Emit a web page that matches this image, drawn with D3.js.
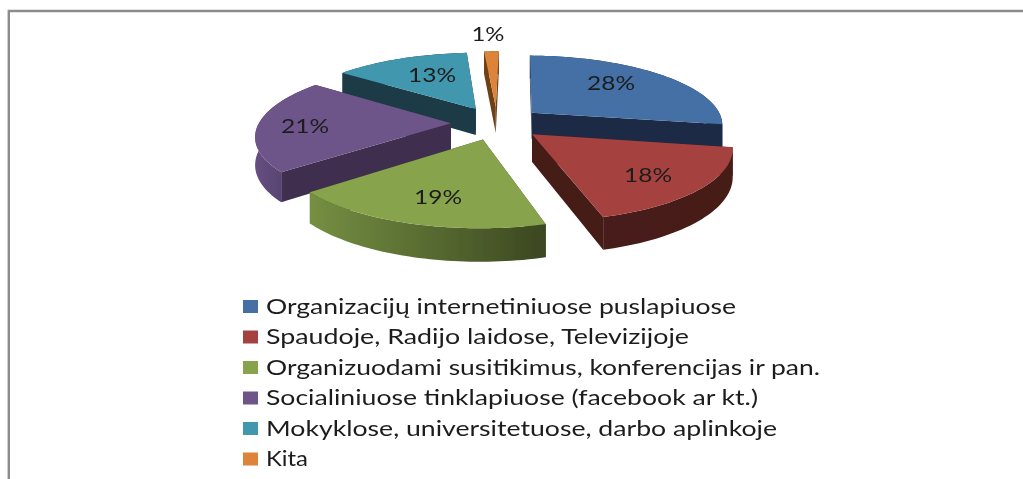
<!DOCTYPE html>
<html><head><meta charset="utf-8">
<script src="https://cdn.jsdelivr.net/npm/d3@7"></script>
<style>html,body{margin:0;padding:0;background:#fff}svg{display:block}text{font-family:Lato,"Open Sans",sans-serif;fill:#1c1c1c}</style>
</head><body><svg id="c" width="1023" height="479"></svg>
<script>
const categories=["Organizacijų internetiniuose puslapiuose","Spaudoje, Radijo laidose, Televizijoje","Organizuodami susitikimus, konferencijas ir pan.","Socialiniuose tinklapiuose (facebook ar kt.)","Mokyklose, universitetuose, darbo aplinkoje","Kita"];
const values=[27.5,17.8,18.5,21.4,13.45,1.45];
const topColors=["#4470a6","#a54341","#87a34c","#6e5489","#4197ae","#dd843a"];
const wallColors=["#1b2b44","#451b18","#3d4a20","#3f2e4f","#1a3b47","#6e4016"];
const arcLight=["#1b2b44","#4a1e1b","#758f42","#665082","#1a3b47","#6e4016"];
const arcDark=["#1b2b44","#451b18","#3b4720","#44345a","#1a3b47","#6e4016"];
const labelWidths=[470,423,554,492,511,42];

const W=1023,H=479,vx=497,cy=123,persp=439,D=1220,R=192,explode=46,depth=27;
const svg=d3.select("#c");
const defs=svg.append("defs");
defs.append("filter").attr("id","soft").attr("x","-5%").attr("y","-5%").attr("width","110%").attr("height","110%")
  .append("feGaussianBlur").attr("stdDeviation",0.55);
const root=svg.append("g").attr("filter","url(#soft)");

// frame
root.append("path").attr("d",d3.line()([[8.8,479],[8.8,11],[1030,11]])).attr("fill","none").attr("stroke","#8c8c8c").attr("stroke-width",2.4);

function proj(X,Y,z){const s=1/(1-Y/D);return [vx+X*s,cy+persp*(s-1)+z*s];}
const rot=Math.PI/180;
const arcs=d3.pie().sort(null).value(d=>d).startAngle(rot).endAngle(2*Math.PI+rot)(values);
function pts(a,z){
  const m=(a.startAngle+a.endAngle)/2,ox=explode*Math.sin(m),oy=-explode*Math.cos(m);
  const n=Math.max(4,Math.ceil((a.endAngle-a.startAngle)*40));
  const rim=d3.range(n+1).map(i=>{const t=a.startAngle+(a.endAngle-a.startAngle)*i/n;return proj(ox+R*Math.sin(t),oy-R*Math.cos(t),z);});
  return {apex:proj(ox,oy,z),rim};
}
const line=d3.line();
const order=[5,4,0,3,2,1];
order.forEach(i=>{
  const a=arcs[i],t=pts(a,0),b=pts(a,depth),g=root.append("g");
  const xs=t.rim.map(p=>p[0]);
  const gid="arc"+i;
  const lg=defs.append("linearGradient").attr("id",gid).attr("gradientUnits","userSpaceOnUse")
    .attr("x1",d3.min(xs)).attr("x2",d3.max(xs)).attr("y1",0).attr("y2",0);
  lg.append("stop").attr("offset",0).attr("stop-color",arcLight[i]);
  lg.append("stop").attr("offset",1).attr("stop-color",arcDark[i]);
  [[t.apex,t.rim[0],b.rim[0],b.apex],[t.apex,t.rim[t.rim.length-1],b.rim[b.rim.length-1],b.apex]].forEach(q=>{
    g.append("path").attr("d",line(q)+"Z").attr("fill",wallColors[i]);
  });
  g.append("path").attr("d",line(t.rim.concat(b.rim.slice().reverse()))+"Z").attr("fill","url(#"+gid+")");
  g.append("path").attr("d",line([t.apex].concat(t.rim))+"Z").attr("fill",topColors[i]);
});

// data labels
const labelPos=[[611,83],[648,175],[438,197],[305,126],[432,75],[488,34]];
const labelLen=[48,48,48,48,48,33];
root.selectAll("text.v").data(values).join("text").attr("class","v")
  .attr("x",(d,i)=>labelPos[i][0]).attr("y",(d,i)=>labelPos[i][1]+7)
  .attr("text-anchor","middle").attr("font-size",20)
  .attr("textLength",(d,i)=>labelLen[i]).attr("lengthAdjust","spacingAndGlyphs")
  .text(d=>Math.round(d)+"%");

// legend
const ly=d3.scalePoint().domain(d3.range(categories.length)).range([306.5,459]);
const leg=root.selectAll("g.l").data(categories).join("g").attr("class","l")
  .attr("transform",(d,i)=>`translate(243,${ly(i)})`);
leg.append("rect").attr("y",-6.5).attr("width",15).attr("height",13).attr("fill",(d,i)=>topColors[i]);
leg.append("text").attr("x",23).attr("y",7).attr("font-size",21)
  .attr("textLength",(d,i)=>labelWidths[i]).attr("lengthAdjust","spacingAndGlyphs").text(d=>d);
</script></body></html>
